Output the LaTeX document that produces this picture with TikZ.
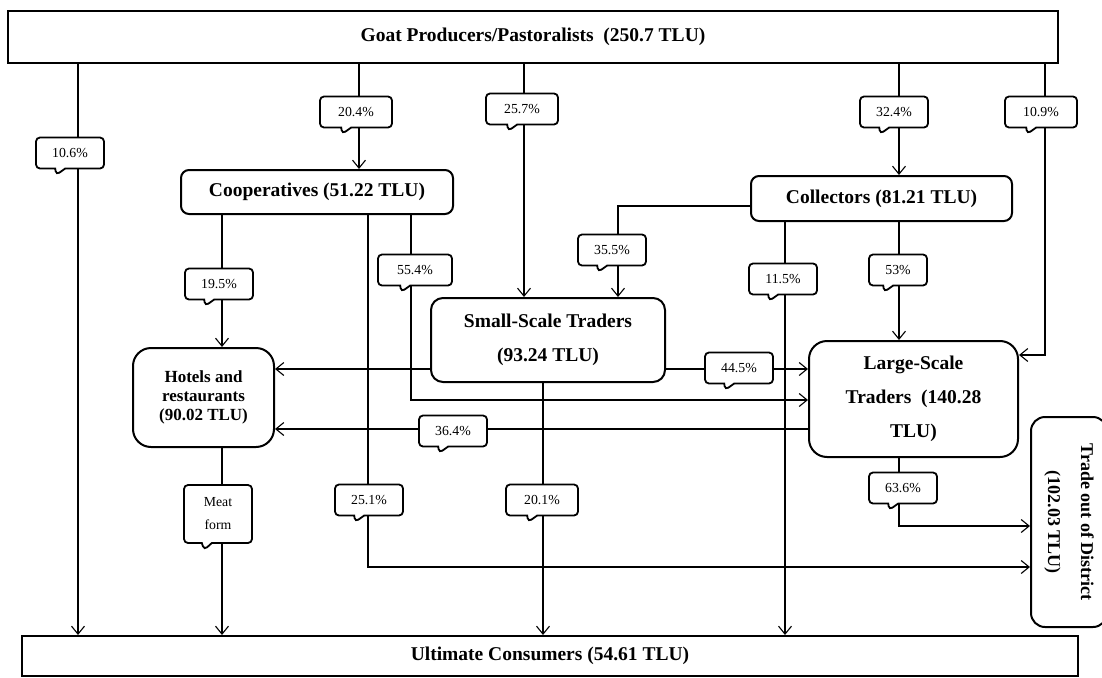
\documentclass[tikz,border=0pt]{standalone}
\usepackage{fontspec}
\setmainfont{Liberation Serif}
\usetikzlibrary{arrows.meta,shapes.callouts}

\begin{document}
\begin{tikzpicture}[x=1pt,y=-1pt,line width=1.1pt,>={Straight Barb[length=8pt,width=13pt]},
    box/.style={draw, fill=white, line width=2pt, align=center, inner sep=0pt,
        font=\bfseries\fontsize{19.5}{34}\selectfont},
    lbl/.style={rectangle callout, draw, fill=white, line width=1.8pt, rounded corners=4pt,
        inner sep=0pt, minimum width=68pt, minimum height=31pt, align=center,
        callout relative pointer={(-4.1pt,-6.5pt)}, callout pointer width=10pt,
        font=\fontsize{13.8}{23}\selectfont}]
    \useasboundingbox (0,0) rectangle (1102,677);

    \node[box, minimum width=1050pt, minimum height=52pt] (top) at (533,37) {Goat Producers/Pastoralists\ \ (250.7 TLU)};
    \node[box, minimum width=1056pt, minimum height=40pt] (cons) at (550,656) {Ultimate Consumers (54.61 TLU)};
    \node[box, rounded corners=8pt, minimum width=272pt, minimum height=44pt] (coop) at (317,192) {Cooperatives (51.22 TLU)};
    \node[box, rounded corners=8pt, minimum width=261pt, minimum height=45pt] (coll) at (881.5,198.5) {Collectors (81.21 TLU)};
    \node[box, rounded corners=12pt, minimum width=234pt, minimum height=84pt] (small) at (548,340) {Small-Scale Traders\\(93.24 TLU)};
    \node[box, rounded corners=18pt, minimum width=141pt, minimum height=99pt,
        font=\bfseries\fontsize{17}{19}\selectfont] (hotel) at (203.5,397.5) {Hotels and\\restaurants\\(90.02 TLU)};
    \node[box, rounded corners=18pt, minimum width=209pt, minimum height=116pt] (large) at (913.5,399) {Large-Scale\\Traders\ \ (140.28\\TLU)};
    \node[box, rounded corners=14pt, rotate=-90, minimum width=210pt, minimum height=76pt,
        font=\bfseries\fontsize{18}{33}\selectfont] (trade) at (1069,522) {Trade out of District\\(102.03 TLU)};

    % from the producers
    \draw[->] ([xshift=-455pt]top.south) -- ([xshift=-472pt]cons.north)
        node[lbl] (l106) at (70,153) {10.6\%};
    \draw[->] ([xshift=-174pt]top.south) -- ([xshift=42pt]coop.north)
        node[lbl, minimum width=72pt] (l204) at (356,112) {20.4\%};
    \draw[->] ([xshift=-9pt]top.south) -- ([xshift=-24pt]small.north)
        node[lbl, minimum width=72pt] (l257) at (522,109) {25.7\%};
    \draw[->] ([xshift=366pt]top.south) -- ([xshift=17.5pt]coll.north)
        node[lbl] (l324) at (894,112) {32.4\%};
    \draw[->] ([xshift=512pt]top.south) |- ([yshift=44pt]large.east)
        node[lbl, minimum width=72pt] (l109) at (1041,112) {10.9\%};

    % from the cooperatives
    \draw[->] ([xshift=-95pt]coop.south) -- ([xshift=18.5pt]hotel.north)
        node[lbl] (l195) at (219,284) {19.5\%};
    \draw[->] ([xshift=51pt]coop.south) |- ([yshift=-45pt]trade.south)
        node[lbl] (l251) at (369,500) {25.1\%};
    \draw[->] ([xshift=94pt]coop.south) |- ([yshift=-1pt]large.west)
        node[lbl, minimum width=74pt] (l554) at (415,270) {55.4\%};

    % from the collectors
    \draw[->] ([yshift=-7.5pt]coll.west) -| ([xshift=70pt]small.north)
        node[lbl] (l355) at (612,250) {35.5\%};
    \draw[->] ([xshift=-96.5pt]coll.south) -- ([xshift=235pt]cons.north)
        node[lbl] (l115) at (783,279) {11.5\%};
    \draw[->] ([xshift=17.5pt]coll.south) -- ([xshift=-14.5pt]large.north)
        node[lbl, minimum width=58pt] (l53) at (898,270) {53\%};

    % from the traders
    \draw[->] ([yshift=-29pt]small.west) -- ([yshift=28.5pt]hotel.east);
    \draw[->] ([yshift=-29pt]small.east) -- ([yshift=30pt]large.west)
        node[lbl] (l445) at (739,368) {44.5\%};
    \draw[->] ([xshift=-5pt]small.south) -- ([xshift=-7pt]cons.north)
        node[lbl, minimum width=72pt] (l201) at (542,500) {20.1\%};
    \draw[->] ([yshift=-30pt]large.west) -- ([yshift=-31.5pt]hotel.east)
        node[lbl] (l364) at (453,431) {36.4\%};
    \draw[->] ([xshift=-14.5pt]large.south) |- ([yshift=-4pt]trade.south)
        node[lbl] (l636) at (903,488) {63.6\%};

    % from the hotels
    \draw[->] ([xshift=18.5pt]hotel.south) -- ([xshift=-328pt]cons.north)
        node[lbl, minimum height=58pt, callout relative pointer={(-2.7pt,-7pt)}] (lmeat) at (218,514) {Meat\\form};
\end{tikzpicture}
\end{document}
